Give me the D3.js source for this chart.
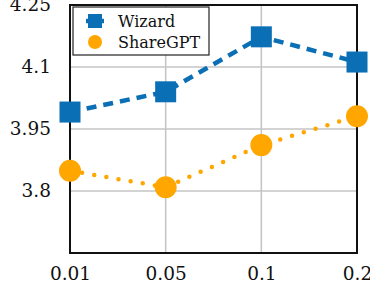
<!DOCTYPE html>
<html>
<head>
<meta charset="utf-8">
<script src="https://cdn.jsdelivr.net/npm/d3@7"></script>
<style>
  body { margin: 0; background: #fff; }
  text { font-family: "DejaVu Serif", serif; }
</style>
</head>
<body>
<svg id="chart" width="370" height="298"></svg>
<script>
const categories = ["0.01", "0.05", "0.1", "0.2"];
const wizard = [3.991, 4.040, 4.173, 4.112];
const sharegpt = [3.849, 3.809, 3.911, 3.981];
const yTicks = [3.8, 3.95, 4.1, 4.25];

const margin = { top: 5, right: 13, bottom: 45, left: 70 };
const width = 370, height = 298;

const svg = d3.select("#chart");

const x = d3.scalePoint()
  .domain(categories)
  .range([margin.left, width - margin.right]);
const y = d3.scaleLinear()
  .domain([3.65, 4.25])
  .range([height - margin.bottom, margin.top]);

// grid
svg.append("g")
  .selectAll("line.vg")
  .data(categories)
  .join("line")
  .attr("x1", d => x(d)).attr("x2", d => x(d))
  .attr("y1", margin.top).attr("y2", height - margin.bottom)
  .attr("stroke", "#c4c4c4").attr("stroke-width", 1.5);
svg.append("g")
  .selectAll("line.hg")
  .data(yTicks)
  .join("line")
  .attr("x1", margin.left).attr("x2", width - margin.right)
  .attr("y1", d => y(d)).attr("y2", d => y(d))
  .attr("stroke", "#c4c4c4").attr("stroke-width", 1.5);

// frame
svg.append("rect")
  .attr("x", margin.left).attr("y", margin.top)
  .attr("width", width - margin.left - margin.right)
  .attr("height", height - margin.top - margin.bottom)
  .attr("fill", "none").attr("stroke", "#111").attr("stroke-width", 2);

// axes labels
const xAxis = d3.axisBottom(x).tickSize(0).tickPadding(14);
svg.append("g")
  .attr("transform", `translate(0,${height - margin.bottom})`)
  .call(xAxis)
  .call(g => g.select(".domain").remove())
  .selectAll("text")
  .attr("font-size", 18.5).attr("font-family", "DejaVu Serif").attr("fill", "#111");

const yAxis = d3.axisLeft(y).tickValues(yTicks).tickFormat(d3.format("")).tickSize(0).tickPadding(19);
svg.append("g")
  .attr("transform", `translate(${margin.left},0)`)
  .call(yAxis)
  .call(g => g.select(".domain").remove())
  .selectAll("text")
  .attr("font-size", 18.5).attr("font-family", "DejaVu Serif").attr("fill", "#111");

const blue = "#0b6fb6", orange = "#ffa600";

const line = d3.line()
  .x((d, i) => x(categories[i]))
  .y(d => y(d));

svg.append("path")
  .datum(wizard)
  .attr("d", line)
  .attr("fill", "none").attr("stroke", blue)
  .attr("stroke-width", 4.5).attr("stroke-dasharray", "10 7");

svg.append("path")
  .datum(sharegpt)
  .attr("d", line)
  .attr("fill", "none").attr("stroke", orange)
  .attr("stroke-width", 4.5).attr("stroke-linecap", "round")
  .attr("stroke-dasharray", "0 12.3");

const sq = 21;
svg.append("g")
  .selectAll("rect")
  .data(wizard)
  .join("rect")
  .attr("x", (d, i) => x(categories[i]) - sq / 2)
  .attr("y", d => y(d) - sq / 2)
  .attr("width", sq).attr("height", sq)
  .attr("fill", blue);

svg.append("g")
  .selectAll("circle")
  .data(sharegpt)
  .join("circle")
  .attr("cx", (d, i) => x(categories[i]))
  .attr("cy", d => y(d))
  .attr("r", 11)
  .attr("fill", orange);

// legend
const legend = svg.append("g").attr("transform", "translate(73,7)");
legend.append("rect")
  .attr("width", 136).attr("height", 48)
  .attr("fill", "#fff").attr("stroke", "#222").attr("stroke-width", 1.2);
legend.append("line")
  .attr("x1", 13).attr("x2", 31).attr("y1", 14).attr("y2", 14)
  .attr("stroke", blue).attr("stroke-width", 4.5);
legend.append("rect")
  .attr("x", 15).attr("y", 7).attr("width", 14).attr("height", 14)
  .attr("fill", blue);
legend.append("circle")
  .attr("cx", 22).attr("cy", 35).attr("r", 7)
  .attr("fill", orange);
legend.append("text")
  .attr("x", 45).attr("y", 20)
  .attr("font-size", 16).attr("fill", "#111")
  .text("Wizard");
legend.append("text")
  .attr("x", 45).attr("y", 41)
  .attr("font-size", 16).attr("fill", "#111")
  .text("ShareGPT");
</script>
</body>
</html>
